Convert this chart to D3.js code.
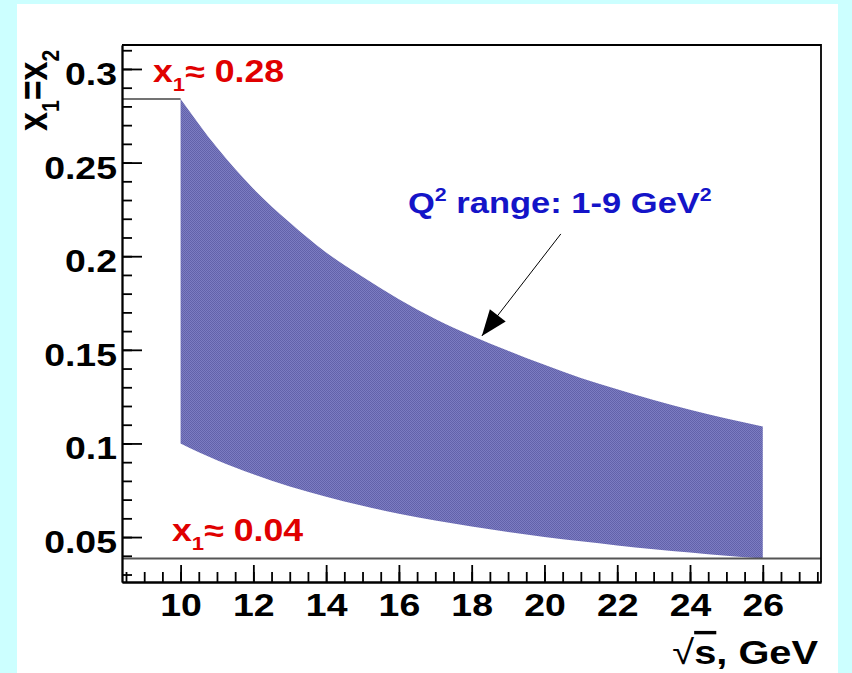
<!DOCTYPE html>
<html>
<head>
<meta charset="utf-8">
<script src="https://cdn.jsdelivr.net/npm/d3@7"></script>
<style>
  html, body { margin: 0; padding: 0; background: #ccffff; }
  svg { display: block; }
  text { font-family: "Liberation Sans", Arial, Helvetica, sans-serif; font-weight: bold; }
</style>
</head>
<body>
<svg id="chart" width="852" height="673"></svg>
<script>
// sqrt(s) in GeV, and the x1 = x2 limits of the Q^2 = 1-9 GeV^2 band
const sqrtS  = [10, 11, 12, 13, 14, 15, 16, 17, 18, 19, 20, 21, 22, 23, 24, 25, 26];
const xUpper = [0.284, 0.258, 0.236, 0.218, 0.202, 0.189, 0.177, 0.1665, 0.1575, 0.1495, 0.142, 0.135, 0.129, 0.1232, 0.118, 0.1133, 0.109];
const xLower = [0.100, 0.091, 0.0835, 0.077, 0.0715, 0.0667, 0.0625, 0.0588, 0.0556, 0.0527, 0.050, 0.0477, 0.0455, 0.0435, 0.0417, 0.040, 0.0385];

const xMajorTicks = [10, 12, 14, 16, 18, 20, 22, 24, 26];
const yMajorTicks = [0.05, 0.1, 0.15, 0.2, 0.25, 0.3];
const yTickLabels = ["0.05", "0.1", "0.15", "0.2", "0.25", "0.3"];

const svg = d3.select("#chart");
const STRETCH = 1.17;

// dithered fill for the band
const pat = svg.append("defs").append("pattern")
  .attr("id", "dither").attr("width", 2).attr("height", 2).attr("patternUnits", "userSpaceOnUse");
pat.append("rect").attr("width", 2).attr("height", 2).attr("fill", "#7c7cc2");
pat.append("rect").attr("width", 1).attr("height", 1).attr("fill", "#6262aa");
pat.append("rect").attr("x", 1).attr("y", 1).attr("width", 1).attr("height", 1).attr("fill", "#6262aa");

// white canvas on the cyan page
svg.append("rect").attr("x", 17).attr("y", 4).attr("width", 821).attr("height", 669).attr("fill", "#ffffff");

const x = d3.scaleLinear().domain([8.39, 27.6]).range([122, 821]);
const y = d3.scaleLinear().domain([0.026, 0.3128]).range([582, 45]);

// band
const area = d3.area()
  .x((d, i) => x(sqrtS[i]))
  .y0((d, i) => y(xLower[i]))
  .y1((d, i) => y(xUpper[i]))
  .curve(d3.curveMonotoneX);
svg.append("path").datum(sqrtS).attr("d", area).attr("fill", "url(#dither)");

// limit lines: x1 max at the lowest energy, x1 min across the range
svg.append("line")
  .attr("x1", x.range()[0]).attr("x2", x(sqrtS[0]))
  .attr("y1", y(xUpper[0])).attr("y2", y(xUpper[0]))
  .attr("stroke", "#444").attr("stroke-width", 1.5);
svg.append("line")
  .attr("x1", x.range()[0]).attr("x2", x.range()[1])
  .attr("y1", y(xLower[xLower.length - 1])).attr("y2", y(xLower[xLower.length - 1]))
  .attr("stroke", "#555").attr("stroke-width", 2);

// frame top / right
svg.append("path")
  .attr("d", `M${x.range()[0]},${y.range()[1]}H${x.range()[1]}V${y.range()[0]}`)
  .attr("fill", "none").attr("stroke", "#000").attr("stroke-width", 1.8);

// y axis
const yMinor = d3.range(3, 32).map(i => i / 100);
const gyMinor = svg.append("g").attr("transform", `translate(${x.range()[0]},0)`)
  .call(d3.axisLeft(y).tickValues(yMinor).tickSize(-10).tickSizeOuter(0).tickFormat(""));
const gy = svg.append("g").attr("transform", `translate(${x.range()[0]},0)`)
  .call(d3.axisLeft(y).tickValues(yMajorTicks).tickSize(-20).tickSizeOuter(0)
    .tickFormat((d, i) => yTickLabels[i]));
gy.selectAll(".tick text")
  .attr("x", 0).attr("dy", null).attr("text-anchor", "end")
  .attr("transform", `translate(-5,15.5) scale(${STRETCH},1)`)
  .attr("font-size", 32).attr("fill", "#000")
  .style("font-family", "'Liberation Sans', Arial, sans-serif").style("font-weight", "bold");

// x axis
const xMinor = d3.range(17, 56).map(i => i / 2);
const gxMinor = svg.append("g").attr("transform", `translate(0,${y.range()[0]})`)
  .call(d3.axisBottom(x).tickValues(xMinor).tickSize(-10).tickSizeOuter(0).tickFormat(""));
const gx = svg.append("g").attr("transform", `translate(0,${y.range()[0]})`)
  .call(d3.axisBottom(x).tickValues(xMajorTicks).tickSize(-17).tickSizeOuter(0).tickFormat(d3.format("d")));
gx.selectAll(".tick text")
  .attr("y", 0).attr("dy", null).attr("text-anchor", "middle")
  .attr("transform", `translate(0,34) scale(${STRETCH},1)`)
  .attr("font-size", 32).attr("fill", "#000")
  .style("font-family", "'Liberation Sans', Arial, sans-serif").style("font-weight", "bold");

[gy, gyMinor, gx, gxMinor].forEach(g => {
  g.selectAll("path.domain, .tick line").attr("stroke", "#000").attr("stroke-width", 1.8);
});

// rich text helper: parts are [string, "n" | "sub" | "sup" | "root" | "over"]
function richText(px, py, parts, opts) {
  const t = svg.append("text")
    .attr("transform", `translate(${px},${py}) scale(${STRETCH},1)` + (opts.rotate ? " rotate(-90)" : ""))
    .attr("font-size", opts.size).attr("fill", opts.color)
    .attr("text-anchor", opts.anchor || "start");
  let shift = 0;
  parts.forEach(([s, kind]) => {
    const want = kind === "sub" ? opts.size * 0.3 : kind === "sup" ? -opts.size * 0.42 : 0;
    const ts = t.append("tspan").text(s)
      .attr("dy", want - shift)
      .attr("font-size", (kind === "sub" || kind === "sup") ? opts.size * 0.62 : opts.size);
    if (kind === "root") ts.style("font-weight", "normal");
    if (kind === "over") ts.style("text-decoration", "overline");
    shift = want;
  });
  return t;
}

// axis titles
richText(47, 131, [["x", "n"], ["1", "sub"], ["=x", "n"], ["2", "sub"]], { size: 34, color: "#000", rotate: true });
richText(818, 664, [["\u221A", "root"], ["s", "over"], [", GeV", "n"]], { size: 34, color: "#000", anchor: "end" });

// annotations
richText(153, 82, [["x", "n"], ["1", "sub"], ["\u2248 0.28", "n"]], { size: 30.5, color: "#e00000" });
richText(172, 541, [["x", "n"], ["1", "sub"], ["\u2248 0.04", "n"]], { size: 30.5, color: "#e00000" });
richText(408, 213, [["Q", "n"], ["2", "sup"], [" range: 1-9 GeV", "n"], ["2", "sup"]], { size: 29.5, color: "#1414c8" });

// arrow pointing to the upper edge of the band
const arrowFrom = [20.45, 0.2119], arrowTo = [18.28, 0.1574];
const ax0 = x(arrowFrom[0]), ay0 = y(arrowFrom[1]), ax1 = x(arrowTo[0]), ay1 = y(arrowTo[1]);
svg.append("line").attr("x1", ax0).attr("y1", ay0).attr("x2", ax1).attr("y2", ay1)
  .attr("stroke", "#000").attr("stroke-width", 1);
const len = Math.hypot(ax1 - ax0, ay1 - ay0), ux = (ax1 - ax0) / len, uy = (ay1 - ay0) / len;
const headL = 26, headW = 10;
const bx = ax1 - headL * ux, by = ay1 - headL * uy;
svg.append("path")
  .attr("d", `M${ax1},${ay1}L${bx - headW * uy},${by + headW * ux}L${bx + headW * uy},${by - headW * ux}Z`)
  .attr("fill", "#000");
</script>
</body>
</html>
